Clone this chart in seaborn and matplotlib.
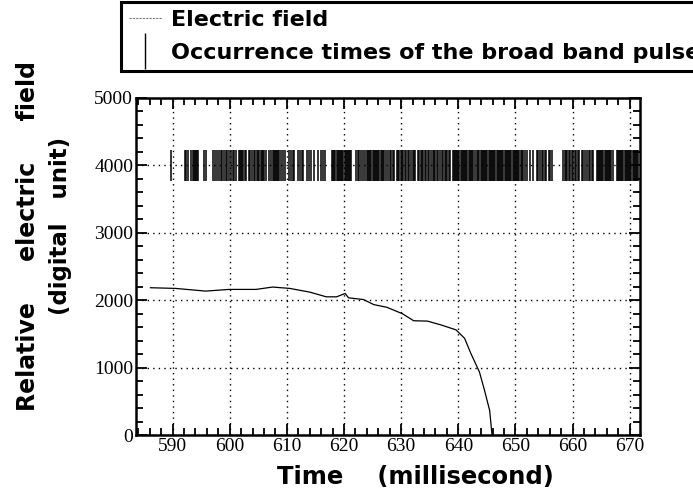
import matplotlib
matplotlib.use("Agg")
import matplotlib.pyplot as plt
from matplotlib.lines import Line2D
from matplotlib.ticker import MultipleLocator
import seaborn as sns
import pandas as pd

# ---- data ----
field_time = [586.1, 590.5, 595.8, 599.9, 604.6, 607.5, 610.5, 614.0, 616.9, 618.7,
              620.2, 620.8, 623.4, 625.2, 627.5, 630.2, 632.2, 634.6, 636.9, 639.6,
              641.1, 642.2, 643.7, 644.6, 645.5, 645.9]
field_value = [2185, 2175, 2135, 2160, 2160, 2195, 2175, 2120, 2050, 2050,
               2100, 2035, 2010, 1935, 1895, 1800, 1695, 1690, 1635, 1560,
               1435, 1210, 935, 660, 360, 0]

pulse_times = [
    589.8,
    592.2, 592.4, 592.7,
    593.3, 593.5, 593.7, 593.9, 594.1, 594.3, 594.5,
    595.5, 595.8,
    597.1, 597.4, 597.7,
    598.1, 598.4, 598.7,
    599.0, 599.3, 599.6, 599.9,
    600.2, 600.5, 600.8, 601.1,
    601.6, 601.8, 602.0, 602.2, 602.4, 602.6, 602.8,
    603.3, 603.6, 603.9, 604.2, 604.4,
    604.8, 605.0, 605.2, 605.4, 605.6, 605.8, 606.0, 606.3,
    606.9,
    607.3, 607.5, 607.7, 607.9, 608.1, 608.3, 608.5, 608.7, 608.9,
    609.3, 609.6,
    610.4, 610.7, 611.0, 611.3,
    611.9, 612.3, 612.6, 612.9,
    613.6, 613.9, 614.2,
    614.8, 615.4, 615.9, 616.3, 616.7,
    617.9, 618.1, 618.3, 618.5, 618.7, 618.9, 619.1, 619.3, 619.5, 619.7,
    619.9, 620.1, 620.3, 620.5, 620.7, 620.9, 621.1, 621.3,
    622.1, 622.4, 622.7, 623.0, 623.3, 623.6,
    624.0, 624.2, 624.4, 624.6, 624.8, 625.0, 625.2, 625.4, 625.6, 625.8,
    626.0, 626.2, 626.4, 626.6, 626.8, 627.0,
    627.4, 627.7, 628.0, 628.3, 628.6, 628.8,
    629.2, 629.4, 629.7, 629.9, 630.2, 630.4, 630.7, 630.9, 631.2, 631.4,
    631.8, 632.0, 632.3, 632.5, 632.9, 633.1, 633.4, 633.6, 633.9, 634.2,
    634.4, 634.7, 634.9, 635.3, 635.5, 635.8, 636.0, 636.3, 636.5, 636.8,
    637.1, 637.3, 637.6, 637.9, 638.1, 638.4, 638.6,
    639.0, 639.2, 639.4, 639.6, 639.8, 640.0, 640.2, 640.4, 640.6, 640.8,
    641.0, 641.2, 641.4, 641.6, 641.8, 642.0, 642.2, 642.4, 642.6, 642.9,
    643.3, 643.5, 643.7, 643.9, 644.1, 644.3, 644.5, 644.7, 644.9, 645.1,
    645.3, 645.5, 645.7, 645.9, 646.1, 646.3, 646.5, 646.7, 646.9, 647.1,
    647.3, 647.5, 647.7, 647.9, 648.1, 648.3, 648.5, 648.7, 648.9, 649.1,
    649.3, 649.5, 649.7, 649.9, 650.1, 650.3, 650.5, 650.7, 650.9, 651.1, 651.3,
    651.6, 652.1, 652.6, 653.0,
    653.7, 654.0, 654.3, 654.6, 654.9, 655.2, 655.4,
    655.8, 656.1, 656.4,
    658.4, 658.6, 658.9, 659.1, 659.4, 659.6, 659.9, 660.1, 660.4, 660.6,
    660.9, 661.1,
    661.6, 661.9, 662.2, 662.5, 662.8, 663.1, 663.4, 663.6,
    664.2, 664.4, 664.6, 664.8, 665.0, 665.2, 665.4, 665.6, 665.8, 666.0,
    666.2, 666.4, 666.6, 666.8, 667.1,
    667.7, 667.9, 668.1, 668.3, 668.5, 668.7, 668.9, 669.1, 669.3, 669.5,
    669.7, 669.9, 670.1, 670.3, 670.5, 670.7, 670.9, 671.1, 671.3, 671.5,
]
pulse_low = 3770
pulse_high = 4230

x_ticks = [590, 600, 610, 620, 630, 640, 650, 660, 670]
y_ticks = [0, 1000, 2000, 3000, 4000, 5000]

# ---- figure ----
sns.set_theme(style="ticks")
plt.rcParams['font.family'] = ['DejaVu Sans']
plt.rcParams['text.color'] = 'black'

fig = plt.figure(figsize=(6.93, 4.98), dpi=100)
ax = fig.add_axes([136/693, 1-435/498, (640-136)/693, (435-98)/498])

df = pd.DataFrame({"t": field_time, "v": field_value})
sns.lineplot(data=df, x="t", y="v", ax=ax, color="black", linewidth=0.9,
             legend=False, sort=False)
ax.vlines(pulse_times, pulse_low, pulse_high, color="black", linewidth=1.1)

ax.set_xlim(583.6, 671.8)
ax.set_ylim(0, 5000)
ax.set_xticks(x_ticks)
ax.set_yticks(y_ticks)
ax.xaxis.set_minor_locator(MultipleLocator(2))
ax.yaxis.set_minor_locator(MultipleLocator(200))
ax.tick_params(which="both", direction="in", top=True, right=True,
               color="black", width=1.3, labelcolor="black")
ax.tick_params(which="major", length=8, labelsize=14, pad=2)
ax.tick_params(which="minor", length=5)
for lab in ax.get_xticklabels() + ax.get_yticklabels():
    lab.set_fontfamily("Liberation Serif")
for s in ax.spines.values():
    s.set_linewidth(1.8)
    s.set_color("black")
ax.grid(True, which="major", color="black", linestyle=(0, (1, 3)), linewidth=1.0)
ax.set_xlabel("")
ax.set_ylabel("")

fig.text(415/693, 1-477/498, "Time    (millisecond)", ha="center", va="center",
         fontsize=17.5, fontweight="bold", family="DejaVu Sans", color="black")
fig.text(28/693, 1-236/498, "Relative     electric     field", ha="center",
         va="center", rotation=90, fontsize=17, fontweight="bold",
         family="DejaVu Sans", color="black")
fig.text(60/693, 1-226/498, "(digital   unit)", ha="center", va="center",
         rotation=90, fontsize=16.5, fontweight="bold", family="DejaVu Sans",
         color="black")

handles = [
    Line2D([], [], color="#777777", linewidth=0.8, linestyle=(0, (2, 1))),
    Line2D([], [], color="black", marker="|", markersize=26, markeredgewidth=1.0,
           linestyle="None"),
]
labels = ["Electric field", "Occurrence times of the broad band pulses"]
leg = fig.legend(handles, labels, loc="upper left",
                 bbox_to_anchor=(121/693, 1-2/498), frameon=True, fancybox=False,
                 edgecolor="black", framealpha=1, borderpad=0.35, labelspacing=0.6,
                 handlelength=1.5, handletextpad=0.4, borderaxespad=0,
                 prop={"family": "DejaVu Sans", "weight": "bold", "size": 16})
leg.get_frame().set_linewidth(2.2)
for t in leg.get_texts():
    t.set_color("black")

fig.savefig("out.png", dpi=100)
